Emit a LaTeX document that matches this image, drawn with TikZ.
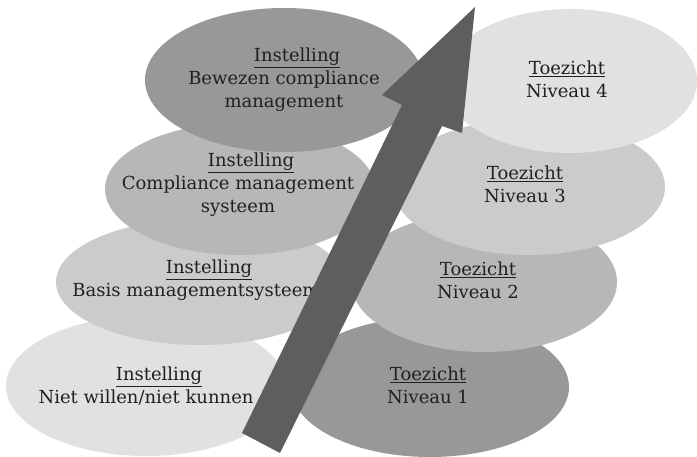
\documentclass[tikz,border=0pt]{standalone}
\usepackage{fontspec}
\setmainfont{DejaVu Serif}
\usetikzlibrary{shapes.geometric}

\definecolor{greyA}{HTML}{E1E1E2}
\definecolor{greyB}{HTML}{CBCBCD}
\definecolor{greyC}{HTML}{B7B7BA}
\definecolor{greyD}{HTML}{98989B}
\definecolor{arrowgrey}{HTML}{5E5E61}
\definecolor{inkgrey}{HTML}{231F20}

\newcommand{\inst}{\hspace*{26pt}\underline{Instelling}}

\begin{document}
\begin{tikzpicture}[x=1pt, y=-1pt,
    blob/.style={ellipse, draw=none, inner sep=0pt},
    lbl/.style={align=center, text=inkgrey, font=\fontsize{18}{23}\selectfont}]
  \useasboundingbox (0,0) rectangle (697,457);

  % Instelling
  \node [blob, fill=greyA, minimum width=280pt, minimum height=140pt] (inst1) at (146,386) {};
  \node [lbl] (inst1t) at (inst1) {\inst\\Niet willen/niet kunnen};
  \node [blob, fill=greyB, minimum width=288pt, minimum height=126pt] (inst2) at (200,282) {};
  \node [lbl] (inst2t) at (196,280) {\inst\\Basis managementsysteem};
  \node [blob, fill=greyC, minimum width=270pt, minimum height=132pt] (inst3) at (240,189) {};
  \node [lbl] (inst3t) at (238,185) {\inst\\Compliance management\\systeem};
  \node [blob, fill=greyD, minimum width=278pt, minimum height=144pt] (inst4) at (284,80) {};
  \node [lbl] (inst4t) at (inst4) {\inst\\Bewezen compliance\\management};

  % Toezicht
  \node [blob, fill=greyD, minimum width=278pt, minimum height=140pt] (toez1) at (430,387) {};
  \node [lbl] (toez1t) at (428,385) {\underline{Toezicht}\\Niveau 1};
  \node [blob, fill=greyC, minimum width=266pt, minimum height=140pt] (toez2) at (484,282) {};
  \node [lbl] (toez2t) at (478,280) {\underline{Toezicht}\\Niveau 2};
  \node [blob, fill=greyB, minimum width=272pt, minimum height=136pt] (toez3) at (529,187) {};
  \node [lbl] (toez3t) at (525,184) {\underline{Toezicht}\\Niveau 3};
  \node [blob, fill=greyA, minimum width=254pt, minimum height=144pt] (toez4) at (570,81) {};
  \node [lbl] (toez4t) at (567,79) {\underline{Toezicht}\\Niveau 4};

  % groei
  \coordinate (tailL) at (242,433);
  \coordinate (tailR) at (280,453);
  \coordinate (neckR) at (442,126);
  \coordinate (barbR) at (462,133);
  \coordinate (tip)   at (475,7);
  \coordinate (barbL) at (382,95);
  \coordinate (neckL) at (402,105);
  \fill [arrowgrey] (tailL) -- (tailR) -- (neckR) -- (barbR) -- (tip)
    -- (barbL) -- (neckL) -- cycle;

\end{tikzpicture}
\end{document}
